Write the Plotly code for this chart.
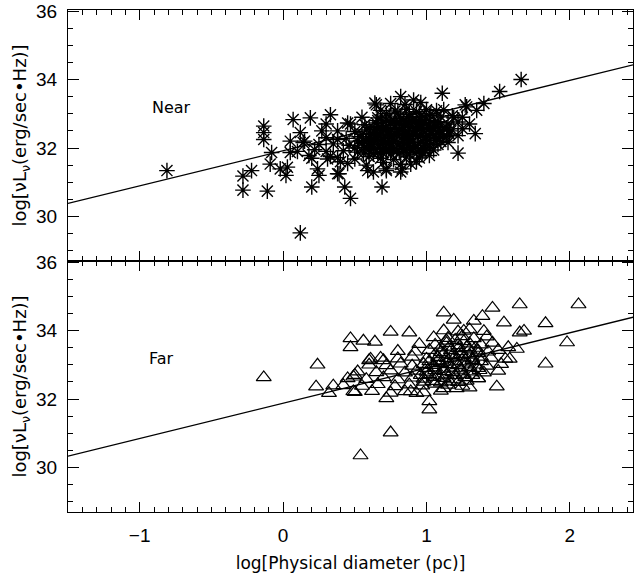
import plotly.graph_objects as go

# ---------------- data ----------------
# Near sample (asterisks)
near_x = [
    -0.81, -0.135, -0.135, -0.135, -0.28, -0.28, -0.22, -0.11, -0.08, -0.09,
    0.12, 0.07, 0.19, 0.33, 0.05, 0.03, 0.02, -0.02, 0.20, 0.43,
    0.47, 0.69, 0.25, 0.24, 0.14, 0.12, 0.18, 0.31, 0.38, 0.64,
    0.45, 0.63, 0.72, 0.82, 1.66, 1.51, 1.11, 1.27, 1.34, 1.22,
    0.65, 0.82, 0.91, 0.39, 0.59, 0.72, 0.83, 0.89, 0.99, 1.06,
    1.14, 1.19, 1.12,
    # core
    0.45, 0.58, 0.70, 0.82, 0.93,
    0.38, 0.50, 0.60, 0.68, 0.77, 0.86, 0.95, 1.02,
    0.30, 0.42, 0.52, 0.60, 0.66, 0.72, 0.79, 0.85, 0.90, 0.97, 1.05,
    0.25, 0.35, 0.46, 0.55, 0.62, 0.68, 0.74, 0.80, 0.86, 0.92, 0.99, 1.08, 1.15,
    0.30, 0.44, 0.53, 0.60, 0.66, 0.71, 0.77, 0.83, 0.88, 0.94, 1.00, 1.07, 1.14, 1.22,
    0.38, 0.50, 0.58, 0.64, 0.70, 0.75, 0.81, 0.87, 0.92, 0.98, 1.04, 1.10, 1.17, 1.25,
    0.47, 0.57, 0.65, 0.72, 0.79, 0.85, 0.90, 0.96, 1.02, 1.08, 1.15, 1.22,
    0.55, 0.66, 0.74, 0.82, 0.88, 0.95, 1.02, 1.10, 1.18,
    0.68, 0.78, 0.86, 0.93, 1.00, 1.07,
    0.75, 0.85, 0.96,
    # fringe
    0.15, 0.22, 0.27, 0.33, 0.38, 0.40, 0.20, 0.10, 0.05, 0.30,
    1.25, 1.30, 1.35, 1.28, 1.40,
    0.63, 0.74, 0.84, 0.91, 0.69, 0.78, 0.88, 0.56, 0.97, 1.03,
    # densest part
    0.56, 0.63, 0.69, 0.75, 0.81, 0.88, 0.94,
    0.50, 0.57, 0.63, 0.70, 0.76, 0.83, 0.89, 0.96, 1.03,
    0.52, 0.58, 0.64, 0.70, 0.77, 0.83, 0.90, 0.96, 1.02, 1.10,
    0.55, 0.61, 0.67, 0.73, 0.79, 0.85, 0.91, 0.97, 1.03, 1.09, 1.16,
    0.60, 0.66, 0.72, 0.78, 0.84, 0.90, 0.96, 1.02, 1.08, 1.14,
    0.66, 0.72, 0.78, 0.84, 0.90, 0.96, 1.02, 1.08,
    0.72, 0.80, 0.88, 0.95, 1.03,
    0.60, 0.72, 0.84, 0.98,
    0.61, 0.73, 0.87, 0.99,
    0.64, 0.76, 0.88, 1.00, 1.12,
    0.69, 0.81, 0.93, 1.05,
    0.75, 0.87, 0.99,
]
near_y = [
    31.34, 32.64, 32.45, 32.25, 31.18, 30.77, 31.34, 30.74, 31.87, 31.53,
    29.52, 32.83, 32.88, 32.97, 31.87, 31.44, 31.20, 31.39, 30.86, 30.86,
    30.53, 30.86, 31.20, 31.39, 32.16, 32.45, 31.78, 31.68, 31.25, 33.31,
    32.73, 31.30, 31.39, 31.30, 34.00, 33.65, 33.60, 33.26, 32.42, 31.85,
    33.26, 33.50, 33.40, 31.25, 31.34, 31.34, 31.39, 31.53, 31.92, 32.21,
    32.54, 32.88, 33.12,
    # core
    31.55, 31.50, 31.58, 31.52, 31.60,
    31.72, 31.68, 31.75, 31.70, 31.66, 31.74, 31.71, 31.78,
    31.90, 31.92, 31.88, 31.95, 31.86, 31.93, 31.89, 31.96, 31.91, 31.87, 31.94,
    32.10, 32.12, 32.08, 32.14, 32.06, 32.11, 32.15, 32.09, 32.13, 32.07, 32.12, 32.10, 32.16,
    32.30, 32.28, 32.33, 32.27, 32.31, 32.35, 32.29, 32.32, 32.26, 32.34, 32.30, 32.28, 32.33, 32.36,
    32.50, 32.48, 32.53, 32.46, 32.52, 32.49, 32.55, 32.47, 32.51, 32.54, 32.48, 32.52, 32.50, 32.56,
    32.70, 32.68, 32.73, 32.66, 32.72, 32.69, 32.75, 32.71, 32.67, 32.74, 32.70, 32.76,
    32.90, 32.88, 32.93, 32.86, 32.92, 32.89, 32.95, 32.91, 32.94,
    33.10, 33.08, 33.13, 33.06, 33.12, 33.09,
    33.30, 33.27, 33.33,
    # fringe
    32.20, 31.95, 32.50, 31.75, 32.25, 31.60, 31.70, 31.90, 32.20, 32.70,
    32.90, 32.70, 33.10, 33.20, 33.30,
    32.40, 32.20, 32.60, 32.00, 32.80, 32.60, 32.40, 32.20, 32.80, 32.60,
    # densest part
    31.85, 31.83, 31.87, 31.84, 31.86, 31.82, 31.88,
    32.00, 32.02, 31.98, 32.01, 31.99, 32.03, 32.00, 31.97, 32.02,
    32.20, 32.22, 32.18, 32.21, 32.19, 32.23, 32.20, 32.17, 32.22, 32.19,
    32.40, 32.42, 32.38, 32.41, 32.39, 32.43, 32.40, 32.37, 32.42, 32.39, 32.41,
    32.60, 32.62, 32.58, 32.61, 32.59, 32.63, 32.60, 32.57, 32.62, 32.59,
    32.80, 32.82, 32.78, 32.81, 32.79, 32.83, 32.80, 32.77,
    33.00, 33.02, 32.98, 33.01, 32.99,
    31.95, 31.96, 31.94, 31.97,
    32.15, 32.14, 32.16, 32.13,
    32.35, 32.36, 32.34, 32.37, 32.35,
    32.55, 32.54, 32.56, 32.53,
    32.75, 32.76, 32.74,
]

# Far sample (triangles)
far_x = [
    -0.135, 0.24, 0.23, 0.35, 0.32, 0.47, 0.47, 0.56, 0.64, 0.75,
    0.49, 0.49, 0.75, 0.54, 0.60, 0.88, 1.12, 1.19, 1.46, 1.65,
    2.06, 1.83, 1.98, 1.83, 1.49, 1.02, 1.02, 1.33, 1.39, 1.54,
    1.68, 1.65, 1.26, 1.21, 1.30, 1.36, 1.37, 0.72, 0.70, 0.61,
    0.50, 0.89, 0.93, 1.12, 1.57, 1.63, 1.58,
    # core
    0.50, 0.62, 0.75, 0.85, 0.98, 1.10,
    0.42, 0.55, 0.66, 0.78, 0.88, 0.97, 1.06, 1.15, 1.25,
    0.45, 0.58, 0.70, 0.80, 0.90, 0.98, 1.05, 1.12, 1.19, 1.27, 1.36,
    0.52, 0.65, 0.75, 0.85, 0.93, 1.00, 1.06, 1.12, 1.18, 1.24, 1.31, 1.40, 1.50,
    0.60, 0.72, 0.82, 0.90, 0.98, 1.05, 1.10, 1.16, 1.22, 1.28, 1.34, 1.42, 1.52,
    0.68, 0.80, 0.90, 1.00, 1.08, 1.14, 1.20, 1.26, 1.32, 1.38, 1.45, 1.55,
    0.80, 0.92, 1.02, 1.10, 1.17, 1.24, 1.30, 1.36, 1.43, 1.50,
    0.95, 1.06, 1.14, 1.22, 1.30, 1.38, 1.46,
    1.05, 1.15, 1.25, 1.33, 1.42,
    1.12, 1.22, 1.30, 1.40,
    # densest part
    0.98, 1.04, 1.10, 1.16, 1.22, 1.28,
    0.96, 1.02, 1.08, 1.14, 1.20, 1.26, 1.32,
    1.00, 1.06, 1.12, 1.18, 1.24, 1.30, 1.36,
    1.02, 1.08, 1.14, 1.20, 1.26, 1.32, 1.38,
    1.06, 1.12, 1.18, 1.24, 1.30, 1.36,
    1.10, 1.16, 1.22, 1.28, 1.34,
    1.14, 1.20, 1.26,
]
far_y = [
    32.63, 33.00, 32.36, 32.39, 32.17, 33.77, 33.51, 33.70, 33.67, 33.96,
    32.65, 32.22, 31.02, 30.35, 33.13, 33.94, 34.52, 34.31, 34.66, 34.76,
    34.76, 34.21, 33.65, 33.03, 32.36, 31.69, 31.93, 34.28, 34.42, 34.23,
    33.99, 33.94, 33.99, 32.31, 32.33, 32.60, 32.84, 32.02, 33.13, 33.17,
    32.70, 32.22, 32.17, 32.31, 33.51, 33.46, 33.17,
    # core
    32.20, 32.23, 32.18, 32.22, 32.19, 32.24,
    32.40, 32.38, 32.43, 32.37, 32.42, 32.39, 32.44, 32.41, 32.38,
    32.60, 32.58, 32.63, 32.57, 32.62, 32.59, 32.64, 32.61, 32.57, 32.63, 32.60,
    32.80, 32.78, 32.83, 32.77, 32.82, 32.79, 32.84, 32.81, 32.78, 32.83, 32.80, 32.77, 32.82,
    33.00, 32.98, 33.03, 32.97, 33.02, 32.99, 33.04, 33.01, 32.98, 33.03, 33.00, 32.97, 33.02,
    33.20, 33.18, 33.23, 33.17, 33.22, 33.19, 33.24, 33.21, 33.18, 33.23, 33.20, 33.17,
    33.40, 33.38, 33.43, 33.37, 33.42, 33.39, 33.44, 33.41, 33.38, 33.43,
    33.60, 33.58, 33.63, 33.57, 33.62, 33.59, 33.64,
    33.80, 33.78, 33.83, 33.77, 33.82,
    34.00, 33.97, 34.03, 33.98,
    # densest part
    32.50, 32.52, 32.48, 32.51, 32.49, 32.53,
    32.70, 32.72, 32.68, 32.71, 32.69, 32.73, 32.70,
    32.90, 32.92, 32.88, 32.91, 32.89, 32.93, 32.90,
    33.10, 33.12, 33.08, 33.11, 33.09, 33.13, 33.10,
    33.30, 33.32, 33.28, 33.31, 33.29, 33.33,
    33.50, 33.52, 33.48, 33.51, 33.49,
    33.70, 33.72, 33.68,
]

# regression lines (end points)
fit_x = [-1.5, 2.5]
near_fit_y = [30.38, 34.49]
far_fit_y = [30.33, 34.45]

# panel labels
panel_names = ["Near", "Far"]
panel_label_pos = [(-0.78, 33.17), (-0.85, 33.17)]

x_range = [-1.5, 2.44]
y_range = [28.7, 36.03]
y_title = "log[\u03bdL<sub>\u03bd</sub>(erg/sec\u2022Hz)]"
x_title = "log[Physical diameter (pc)]"

# ---------------- figure ----------------
fig = go.Figure()

fig.add_trace(go.Scatter(
    x=near_x, y=near_y, mode="markers", xaxis="x", yaxis="y",
    marker=dict(symbol="asterisk-open", size=13, color="black",
                line=dict(color="black", width=1.4)),
    showlegend=False))
fig.add_trace(go.Scatter(
    x=fit_x, y=near_fit_y, mode="lines", xaxis="x", yaxis="y",
    line=dict(color="black", width=1.3), showlegend=False))

fig.add_trace(go.Scatter(
    x=far_x, y=far_y, mode="markers", xaxis="x2", yaxis="y2",
    marker=dict(symbol="triangle-up-open", size=13, color="black",
                line=dict(color="black", width=1.2)),
    showlegend=False))
fig.add_trace(go.Scatter(
    x=fit_x, y=far_fit_y, mode="lines", xaxis="x2", yaxis="y2",
    line=dict(color="black", width=1.3), showlegend=False))

tick_font = dict(family="Liberation Sans", size=19, color="black")
title_font = dict(family="DejaVu Sans", size=17, color="black")

xcommon = dict(range=x_range, showgrid=False, zeroline=False, showline=True,
               linecolor="black", linewidth=1, mirror="ticks", ticks="inside",
               ticklen=10, tickcolor="black", dtick=1, tick0=0,
               minor=dict(ticks="inside", ticklen=5, dtick=0.1, tickcolor="black"),
               tickfont=tick_font, ticklabelstandoff=6)
ycommon = dict(range=y_range, showgrid=False, zeroline=False, showline=True,
               linecolor="black", linewidth=1, mirror="ticks", ticks="inside",
               ticklen=11, tickcolor="black", dtick=2, tick0=0,
               minor=dict(ticks="inside", ticklen=5, dtick=0.5, tickcolor="black"),
               tickfont=tick_font, ticklabelstandoff=6,
               title=dict(text=y_title, font=dict(family="DejaVu Sans", size=18, color="black"),
                          standoff=4))

fig.update_layout(
    width=635, height=581,
    margin=dict(l=68, r=1, t=6, b=69),
    paper_bgcolor="white", plot_bgcolor="white",
    xaxis=dict(**xcommon, anchor="y", showticklabels=False),
    yaxis=dict(**ycommon, domain=[0.5, 1.0], anchor="x"),
    xaxis2=dict(**xcommon, anchor="y2", matches="x",
                title=dict(text=x_title, font=title_font, standoff=12)),
    yaxis2=dict(**ycommon, domain=[0.0, 0.5], anchor="x2"),
)

for name, (lx, ly), xr, yr in zip(panel_names, panel_label_pos, ["x", "x2"], ["y", "y2"]):
    fig.add_annotation(x=lx, y=ly, xref=xr, yref=yr, text=name, showarrow=False,
                       font=dict(family="DejaVu Sans", size=16, color="black"))

fig.write_html("out.html")
